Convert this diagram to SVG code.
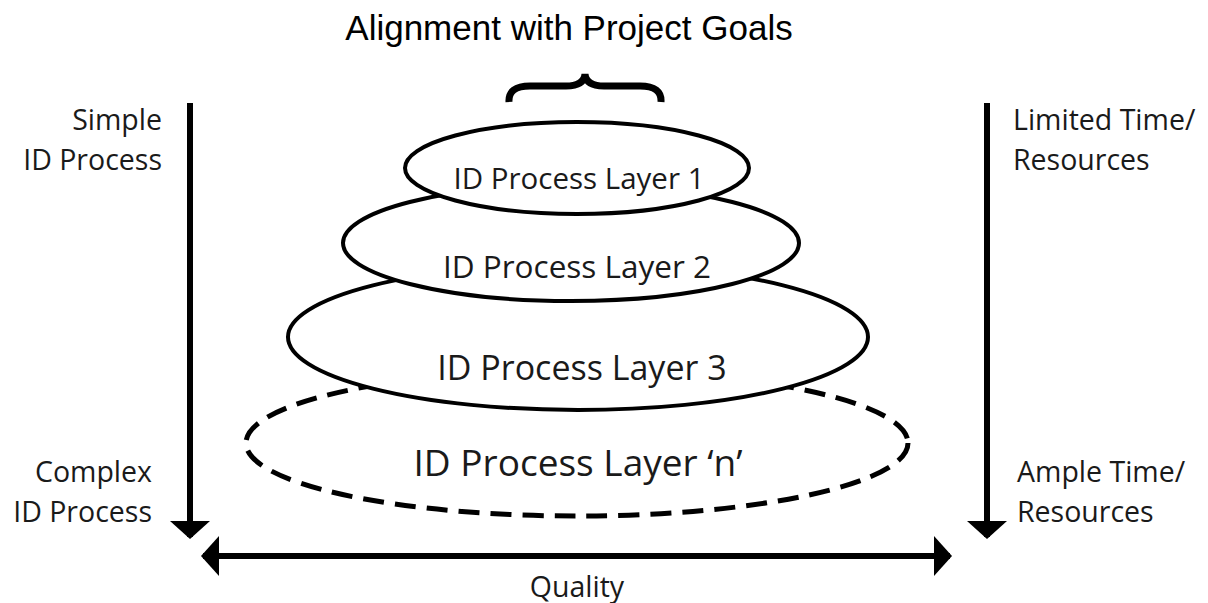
<svg xmlns="http://www.w3.org/2000/svg" width="1208" height="603" viewBox="0 0 1208 603">
  <style>
    .lbl { font-family: "Open Sans", "Noto Sans", sans-serif; fill: #1a1a1a; }
    .side { font-size: 28.5px; }
    .layer { fill: #ffffff; stroke: #000; stroke-width: 4; }
    .dash { fill: #ffffff; stroke: #000; stroke-width: 5; stroke-dasharray: 21 11; }
    .shaft { stroke: #000; stroke-width: 6; fill: none; }
  </style>
  <defs>
    <!-- flat, wide arrowhead: 18px long, ~40px across at stroke-width 6 -->
    <marker id="head" viewBox="0 0 9 20" refX="8" refY="10" markerWidth="3" markerHeight="6.7" markerUnits="strokeWidth" orient="auto-start-reverse">
      <path d="M0,0 L9,10 L0,20 z" fill="#000"/>
    </marker>
  </defs>
  <rect width="1208" height="603" fill="#ffffff"/>

  <text x="569" y="40" text-anchor="middle" font-family="Liberation Sans, Arial, sans-serif" font-size="35" fill="#000">Alignment with Project Goals</text>
  <path d="M509,102 Q508,86 530,86 L566,86 Q584,86 585,74 Q586,86 604,86 L640,86 Q662,86 661,102" fill="none" stroke="#000" stroke-width="7"/>

  <g id="layer-n">
    <ellipse class="dash" cx="577" cy="443" rx="331" ry="73"/>
    <text class="lbl" x="578" y="476" text-anchor="middle" font-size="37">ID Process Layer ‘n’</text>
  </g>
  <g id="layer-3">
    <ellipse class="layer" cx="578" cy="337" rx="290" ry="73"/>
    <text class="lbl" x="582" y="380" text-anchor="middle" font-size="34">ID Process Layer 3</text>
  </g>
  <g id="layer-2">
    <ellipse class="layer" cx="571" cy="243" rx="228" ry="58"/>
    <text class="lbl" x="577" y="278" text-anchor="middle" font-size="31.5">ID Process Layer 2</text>
  </g>
  <g id="layer-1">
    <ellipse class="layer" cx="577" cy="168" rx="172" ry="46"/>
    <text class="lbl" x="579" y="189" text-anchor="middle" font-size="29.5">ID Process Layer 1</text>
  </g>

  <g id="connectors">
    <line class="shaft" x1="190" y1="103" x2="190" y2="537" marker-end="url(#head)"/>
    <line class="shaft" x1="987" y1="103" x2="987" y2="537" marker-end="url(#head)"/>
    <line class="shaft" x1="203" y1="556" x2="950" y2="556" marker-start="url(#head)" marker-end="url(#head)"/>
  </g>

  <g id="labels">
    <text class="lbl side" x="162" y="130" text-anchor="end">Simple</text>
    <text class="lbl side" x="162" y="170" text-anchor="end">ID Process</text>
    <text class="lbl side" x="152" y="482" text-anchor="end">Complex</text>
    <text class="lbl side" x="152" y="522" text-anchor="end">ID Process</text>
    <text class="lbl side" x="1013" y="130">Limited Time/</text>
    <text class="lbl side" x="1013" y="170">Resources</text>
    <text class="lbl side" x="1017" y="482">Ample Time/</text>
    <text class="lbl side" x="1017" y="522">Resources</text>
    <text class="lbl side" x="577" y="597" text-anchor="middle">Quality</text>
  </g>
</svg>
